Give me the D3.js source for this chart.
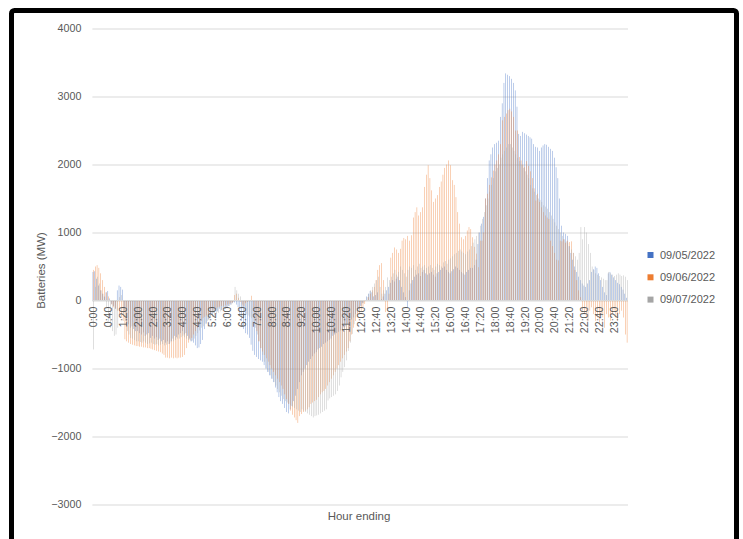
<!DOCTYPE html>
<html>
<head>
<meta charset="utf-8">
<script src="https://cdn.jsdelivr.net/npm/d3@7"></script>
<style>
    body { margin: 0; background: #fff; }
    svg text { font-family: "Liberation Sans", Arial, sans-serif; fill: #595959; }
</style>
</head>
<body>
<svg id="chart" width="743" height="539"></svg>
<script>
// series names and colours, in legend order
const seriesNames = ["09/05/2022", "09/06/2022", "09/07/2022"];
const seriesColors = ["#4472C4", "#ED7D31", "#A5A5A5"];
const yTicks = [-3000, -2000, -1000, 0, 1000, 2000, 3000, 4000];

// 5 minute categories, 0:00 .. 23:55
const times = [];
for (let h = 0; h < 24; h++) {
    for (let m = 0; m < 60; m += 5) {
        times.push(h + ":" + String(m).padStart(2, "0"));
    }
}

// MW, one line per hour (12 x 5 min)
const mw0905 = [
    420, 430, 320, 220, 150, 100, 60, 120, 140, 30, -50, -80,
    -120, 150, 220, 200, 160, -150, -300, -350, -400, -380, -420, -450,
    -450, -480, -500, -470, -520, -500, -480, -550, -520, -560, -540, -580,
    -560, -600, -580, -620, -600, -640, -600, -560, -520, -540, -500, -480,
    -450, -500, -480, -520, -560, -600, -620, -660, -700, -690, -640, -580,
    -420, -340, -280, -250, -200, -180, -150, -160, -120, -140, -100, -120,
    -100, -80, -60, -40, -30, -60, -100, -200, -300, -420, -480, -500,
    -550, -650, -740, -800, -830, -860, -880, -900, -950, -1000, -1050, -1100,
    -1150, -1200, -1280, -1350, -1420, -1480, -1520, -1580, -1640, -1660, -1600, -1550,
    -1480, -1400, -1300, -1200, -1100, -1050, -1000, -950, -900, -860, -820, -780,
    -760, -720, -700, -680, -640, -620, -600, -580, -560, -520, -500, -480,
    -460, -440, -420, -400, -380, -350, -320, -280, -250, -200, -160, -120,
    -80, -40, 0, 60, 100, 140, 120, 60, 80, 120, 0, 20,
    60, 100, 150, 200, 260, 300, 280, 320, 350, 300, 200, 120,
    50, -100, 150, 250, 300, 350, 380, 400, 360, 420, 450, 400,
    380, 400, 420, 380, 350, 400, 420, 450, 480, 500, 450, 420,
    400, 430, 460, 500, 480, 450, 420, 400, 380, 420, 450, 480,
    480, 520, 600, 830, 1000, 1130, 1230, 1500, 1800, 2060, 2150, 2250,
    2300, 2320, 2350, 2700, 2900, 3200, 3340, 3320, 3300, 3260, 3200, 3090,
    2850, 2450, 2420, 2480, 2460, 2440, 2420, 2400, 2380, 2300, 2260, 2250,
    2200, 2250, 2280, 2300, 2290, 2260, 2230, 2200, 2100, 1960, 1800, 1500,
    1100, 1000, 980, 950, 800, 700, 600, 500, 420, 350, 300, 250,
    220, 200, 250, 300, 420, 460, 500, 480, 400, 300, 200, 120,
    80, 400, 420, 380, 340, 300, 260, 240, 200, 160, 100, 40
];

const mw0906 = [
    450, 500, 520, 480, 400, 300, 200, 120, 60, 0, -60, -100,
    -120, -150, -200, -250, -300, -570, -600, -620, -640, -650, -660, -670,
    -670, -680, -680, -690, -690, -700, -700, -710, -720, -730, -740, -750,
    -760, -780, -800, -840, -840, -850, -840, -850, -840, -850, -840, -840,
    -830, -800, -700, -620, -580, -550, -500, -450, -400, -350, -300, -260,
    -240, -220, -200, -180, -150, -130, -120, -100, -90, -80, -80, -70,
    -60, -50, -40, -30, 80, 100, 40, -20, -60, -80, -40, -20,
    0, 70, -100, -300, -450, -600, -700, -750, -800, -850, -900, -950,
    -1000, -1050, -1100, -1150, -1200, -1250, -1300, -1380, -1450, -1520, -1620, -1680,
    -1720, -1760, -1800, -1700, -1670, -1640, -1620, -1600, -1570, -1520, -1500, -1480,
    -1460, -1420, -1380, -1350, -1330, -1300, -1250, -1200, -1150, -1100, -1050, -1000,
    -950, -900, -850, -800, -750, -700, -600, -500, -400, -300, -250, -200,
    -150, -100, -50, 0, 50, 100, 150, 200, 300, 450, 520, 550,
    300, -170, -150, 100, 630, 700, 780, 750, 700, 760, 880, 920,
    900, 950, 880, 960, 1220, 1300, 1370, 1250, 1300, 1370, 1670, 1850,
    1990, 1800, 1620, 1450, 1500, 1550, 1670, 1750, 1850, 1950, 2000, 2060,
    1990, 1770, 1700, 1520, 1300, 1130, 930, 900, 950, 1030, 1080, 1050,
    930, 790, 690, 490, 880, 880, 1000, 1500, 1570, 1700, 1810, 1910,
    2000, 2060, 2150, 2300, 2650, 2700, 2750, 2800, 2820, 2780, 2700, 2500,
    2500, 2110, 2060, 2000, 1960, 2050, 1980, 1900, 1800, 1650, 1470, 1570,
    1450, 1370, 1300, 1250, 1220, 1200, 880, 800, 700, 600, 590, 880,
    870, 900, 850, 880, 860, 870, 700, 450, 300, 150, 50, -150,
    -200, -250, -300, -150, -100, -200, -300, -250, -350, -200, -250, -400,
    -200, -250, -300, -200, -150, -250, -300, -200, -150, -250, -500, -620
];

const mw0907 = [
    -720, 200, 350, 250, 150, 100, 50, -100, -300, -400, -450, -520,
    -500, -400, 50, 80, -200, -300, -450, -500, -550, -560, -580, -600,
    -600, -610, -620, -600, -620, -640, -630, -620, -640, -650, -640, -660,
    -650, -640, -660, -650, -640, -620, -600, -600, -580, -560, -560, -540,
    -520, -540, -560, -580, -600, -590, -560, -520, -480, -440, -400, -380,
    -340, -300, -280, -260, -240, -220, -200, -180, -160, -150, -130, -120,
    -100, -80, -60, -20, 200, 150, 100, 60, -100, -150, -200, -220,
    -240, -260, -300, -400, -500, -600, -700, -800, -900, -1000, -1050, -1100,
    -1150, -1200, -1250, -1300, -1350, -1400, -1450, -1480, -1500, -1520, -1540, -1560,
    -1580, -1600, -1620, -1640, -1600, -1620, -1640, -1660, -1680, -1700, -1720, -1700,
    -1690, -1680, -1660, -1640, -1620, -1600, -1470, -1440, -1420, -1400, -1380, -1330,
    -1250, -1130, -1050, -980, -880, -740, -620, -490, -350, -250, -180, -120,
    -80, -40, 0, 50, 100, 150, 200, 250, 300, 350, 200, 100,
    150, 200, 340, 300, 350, 400, 450, 380, 420, 500, 450, 400,
    350, 450, 500, 480, 520, 450, 500, 540, 480, 500, 520, 480,
    500, 520, 480, 450, 500, 540, 520, 500, 560, 580, 540, 600,
    620, 650, 680, 700, 730, 750, 720, 700, 680, 720, 750, 800,
    850, 900, 950, 1000, 1100, 1200, 1300, 1400, 1500, 1600, 1700, 1800,
    1900, 1950, 2000, 2100, 2150, 2200, 2250, 2300, 2300, 2250, 2200, 2150,
    2100, 2050, 2000, 1950, 1900, 1850, 1800, 1700, 1650, 1600, 1550, 1500,
    1480, 1450, 1400, 1380, 1350, 1300, 1250, 1200, 1150, 1100, 1050, 1000,
    950, 900, 870, 850, 800, 750, 700, 650, 600, 700, 1080, 900,
    1080, 1000, 830, 700, 500, 450, 400, 380, 360, 340, 320, 300,
    300, 420, 400, 380, 360, 380, 400, 380, 360, 370, 350, 300
];

const allSeries = [mw0905, mw0906, mw0907];

function draw_chart() {
    const svg = d3.select("#chart");
    const plotLeft = 92.4, plotRight = 628;

    // black frame round the picture
    svg.append("rect")
        .attr("x", 11.5).attr("y", 10.5)
        .attr("width", 725).attr("height", 600)
        .attr("rx", 3)
        .attr("fill", "#fff")
        .attr("stroke", "#000")
        .attr("stroke-width", 5);

    let y = d3.scaleLinear([-3000, 4000], [504.5, 28.5]);
    let x0 = d3.scaleBand()
        .domain(times)
        .range([plotLeft, plotRight])
        .paddingInner(0.42)
        .paddingOuter(0.21);
    let x1 = d3.scaleBand()
        .domain(d3.range(seriesNames.length))
        .range([0, x0.bandwidth()]);

    // gridlines + y labels
    let yAxis = g => g
        .attr("transform", `translate(${plotLeft},0)`)
        .call(d3.axisLeft(y).tickValues(yTicks).tickFormat(d3.format("d"))
            .tickSize(plotLeft - plotRight).tickPadding(11))
        .call(g => g.select(".domain").remove())
        .call(g => g.selectAll(".tick line").attr("stroke", "#D9D9D9"))
        .call(g => g.selectAll(".tick text")
            .attr("font-size", "10.7px")
            .attr("font-family", null)
            .attr("fill", null));
    svg.append("g").call(yAxis);

    // bars, one group per series
    allSeries.forEach((vals, s) => {
        svg.append("g")
            .attr("fill", seriesColors[s])
            .selectAll("rect")
            .data(vals)
            .join("rect")
            .attr("x", (d, i) => x0(times[i]) + x1(s))
            .attr("y", d => y(Math.max(0, d)))
            .attr("width", x1.bandwidth())
            .attr("height", d => Math.abs(y(d) - y(0)));
    });

    // horizontal axis line at 0
    svg.append("line")
        .attr("x1", plotLeft).attr("x2", plotRight - 1)
        .attr("y1", y(0)).attr("y2", y(0))
        .attr("stroke", "#D9D9D9");

    // rotated hour labels, every 8th category
    let xAxis = g => g
        .attr("transform", `translate(0,${y(0)})`)
        .call(d3.axisBottom(x0).tickValues(times.filter((d, i) => i % 8 == 0)).tickSize(0))
        .call(g => g.select(".domain").remove())
        .call(g => g.selectAll(".tick text")
            .attr("font-size", "10.7px")
            .attr("font-family", null)
            .attr("fill", null)
            .attr("transform", "rotate(-90)")
            .attr("text-anchor", "end")
            .attr("x", -6)
            .attr("y", 0)
            .attr("dy", "0.35em"));
    svg.append("g").call(xAxis);

    svg.append("text")
        .attr("transform", "translate(45,270.5) rotate(-90)")
        .attr("text-anchor", "middle")
        .attr("font-size", "11.5px")
        .text("Batteries (MW)");

    svg.append("text")
        .attr("x", 359).attr("y", 520)
        .attr("text-anchor", "middle")
        .attr("font-size", "11.5px")
        .text("Hour ending");

    // legend
    let legend = svg.append("g").selectAll("g")
        .data(seriesNames)
        .join("g")
        .attr("transform", (d, i) => `translate(647.5,${255 + i * 22.3})`);
    legend.append("rect")
        .attr("x", 0).attr("y", -3)
        .attr("width", 6).attr("height", 6)
        .attr("fill", (d, i) => seriesColors[i]);
    legend.append("text")
        .attr("x", 12.5).attr("dy", "0.35em")
        .attr("font-size", "11px")
        .text(d => d);
}

draw_chart();
</script>
</body>
</html>
